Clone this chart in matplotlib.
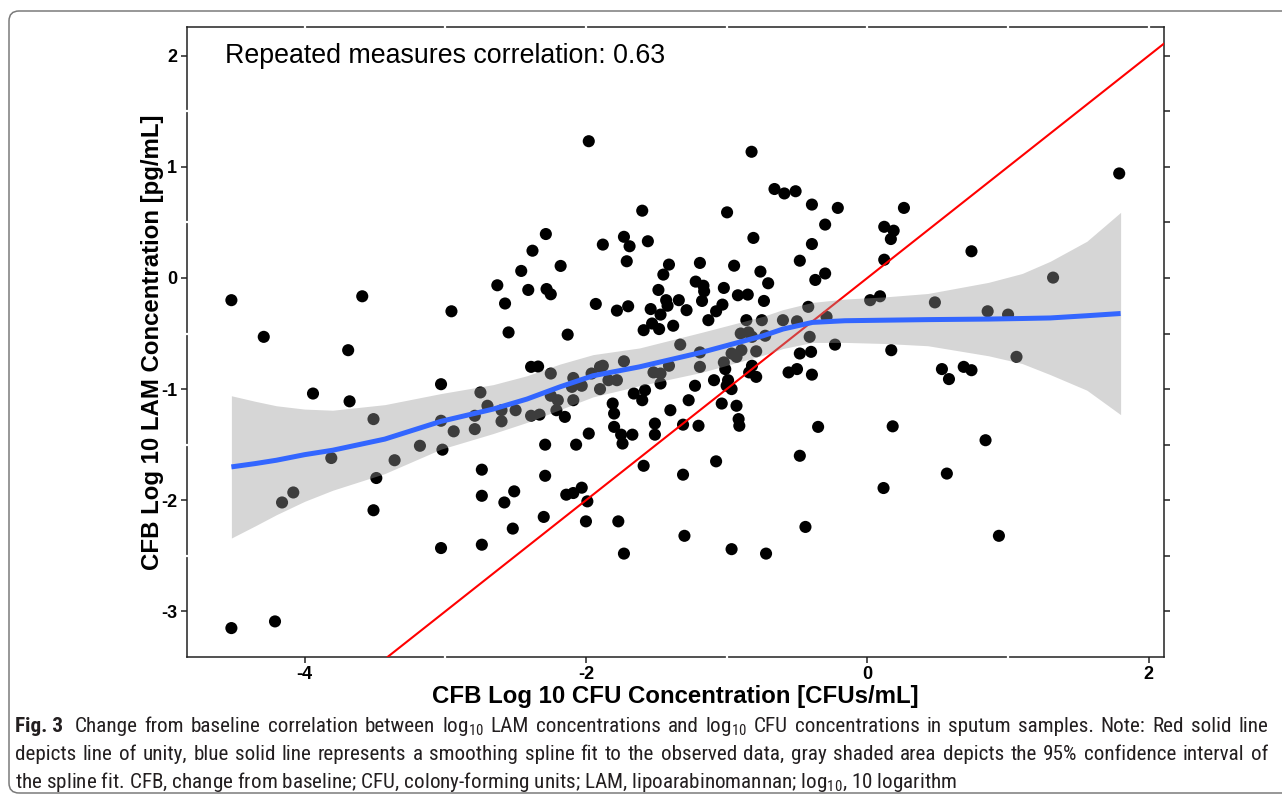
import matplotlib
matplotlib.use("Agg")
import matplotlib.pyplot as plt
from matplotlib import font_manager
from matplotlib.patches import FancyBboxPatch
import matplotlib.transforms as mtransforms

# ---------------- data ----------------
cfu_change = [
    -4.52, -3.59, -2.956, -4.29, -3.69, -3.94, -3.68, -3.03, -3.51, -3.03, -2.94, -3.18, -3.02,
    -3.81, -3.36, -3.49, -4.08, -4.16, -3.51, -3.03, -4.52, -4.21,
    -1.98, -2.285, -1.88, -1.73, -1.69, -1.71, -2.38, -2.46, -2.18, -2.63, -2.41, -2.28, -2.25,
    -2.575, -1.93, -1.78, -1.70, -2.55, -2.13,
    -2.39, -2.34, -2.75, -2.70, -2.79, -2.79, -2.60, -2.60, -2.50, -2.39, -2.33, -2.25, -2.25,
    -2.20, -2.21, -2.15, -2.09, -2.10, -2.03, -2.09, -1.96, -1.90, -1.88, -1.84, -1.90, -1.78,
    -1.73, -1.66, -1.81, -1.80, -1.80, -1.75, -1.74, -1.67, -1.98, -2.29, -2.07, -2.74, -2.29,
    -2.74, -2.51, -2.58, -2.14, -2.09, -2.03, -1.99, -2.30, -2.00, -1.77, -2.52, -2.74, -1.73,
    -0.823, -0.66, -0.59, -0.51, -0.394, -1.60, -0.997, -1.56, -0.81, -0.394, -0.48, -1.41, -1.19,
    -0.947, -1.45, -0.76, -0.37, -0.705, -1.22, -1.165, -1.16, -1.485, -1.02, -1.43, -1.42, -1.34,
    -1.175, -0.92, -0.85, -0.735, -1.54, -1.47, -1.285, -1.03, -1.075, -1.13, -1.59, -1.53, -1.48,
    -1.38, -0.86, -0.75, -0.60, -0.50, -0.42, -1.33, -0.90, -0.845, -0.82, -0.726, -0.41,
    -1.19, -1.19, -1.41, -1.52, -1.47, -1.47, -1.58, -1.60, -1.225, -1.27, -1.40, -1.09, -1.02,
    -1.01, -0.99, -1.00, -0.965, -0.965, -0.93, -0.895, -1.035, -0.93, -0.915, -0.91, -0.82, -0.84,
    -0.79, -0.79, -1.51, -1.51, -1.31, -1.20, -1.59, -1.31, -1.075, -1.30, -0.965, -0.72, -0.48,
    -0.40, -0.56, -0.50, -0.394, -0.35, -0.48, -0.44,
    1.79, -0.21, 0.26, -0.30, 0.12, 0.187, 0.167, 0.74, 0.12, -0.30, 1.32, 0.02, 0.09, 0.48,
    0.855, 1.00, -0.29, -0.23, 0.17, 1.06, 0.53, 0.58, 0.685, 0.74, 0.18, 0.84, 0.565, 0.115, 0.935,
]
lam_change = [
    -0.20, -0.165, -0.30, -0.53, -0.65, -1.04, -1.11, -0.956, -1.27, -1.285, -1.38, -1.51, -1.545,
    -1.62, -1.64, -1.80, -1.93, -2.02, -2.09, -2.43, -3.15, -3.09,
    1.23, 0.395, 0.30, 0.37, 0.285, 0.15, 0.245, 0.063, 0.108, -0.066, -0.108, -0.10, -0.147,
    -0.23, -0.234, -0.294, -0.255, -0.49, -0.51,
    -0.80, -0.797, -1.03, -1.15, -1.24, -1.36, -1.19, -1.29, -1.19, -1.24, -1.23, -0.86, -1.06,
    -1.10, -1.19, -1.25, -0.90, -0.98, -0.97, -1.10, -0.86, -0.80, -0.79, -0.92, -1.00, -0.92,
    -0.75, -1.04, -1.13, -1.22, -1.34, -1.41, -1.49, -1.41, -1.40, -1.50, -1.50, -1.725, -1.78,
    -1.96, -1.92, -2.02, -1.95, -1.935, -1.887, -2.01, -2.15, -2.19, -2.19, -2.255, -2.40, -2.48,
    1.135, 0.80, 0.76, 0.78, 0.66, 0.605, 0.59, 0.33, 0.36, 0.305, 0.155, 0.12, 0.135,
    0.11, 0.03, 0.057, -0.018, -0.048, -0.033, -0.07, -0.12, -0.108, -0.09, -0.20, -0.25, -0.20,
    -0.207, -0.156, -0.15, -0.207, -0.28, -0.33, -0.29, -0.24, -0.30, -0.38, -0.47, -0.41, -0.46,
    -0.43, -0.38, -0.38, -0.38, -0.39, -0.26, -0.60, -0.50, -0.49, -0.53, -0.52, -0.53,
    -0.67, -0.80, -0.79, -0.85, -0.86, -0.95, -1.01, -1.10, -0.97, -1.10, -1.19, -0.92, -0.76,
    -0.82, -0.92, -0.97, -1.00, -0.68, -0.71, -0.65, -1.13, -1.15, -1.27, -1.33, -0.79, -0.85,
    -0.89, -0.66, -1.31, -1.41, -1.32, -1.33, -1.69, -1.77, -1.65, -2.32, -2.44, -2.48, -0.68,
    -0.665, -0.85, -0.82, -0.87, -1.34, -1.60, -2.24,
    0.94, 0.63, 0.63, 0.48, 0.46, 0.425, 0.35, 0.24, 0.164, 0.04, 0.003, -0.20, -0.165, -0.22,
    -0.30, -0.33, -0.35, -0.60, -0.65, -0.71, -0.82, -0.91, -0.80, -0.83, -1.335, -1.46, -1.76, -1.89, -2.32,
]

# smoothing spline fit and its 95% confidence band, read at sample positions
fit_x = [-4.52, -4.35, -4.20, -4.00, -3.80, -3.43, -3.03, -2.66, -2.42, -2.185, -1.95, -1.62,
         -1.18, -0.74, -0.60, -0.39, -0.16, 0.13, 0.43, 0.86, 1.10, 1.30, 1.56, 1.80]
fit_y = [-1.70, -1.67, -1.64, -1.59, -1.55, -1.45, -1.29, -1.18, -1.09, -0.98, -0.88, -0.80,
         -0.67, -0.52, -0.46, -0.40, -0.385, -0.38, -0.375, -0.37, -0.365, -0.36, -0.34, -0.32]
ci_lower = [-2.34, -2.23, -2.13, -2.01, -1.91, -1.76, -1.54, -1.40, -1.30, -1.185, -1.07, -0.97,
            -0.85, -0.695, -0.635, -0.58, -0.58, -0.59, -0.61, -0.70, -0.77, -0.87, -1.01, -1.23]
ci_upper = [-1.06, -1.11, -1.15, -1.18, -1.19, -1.14, -1.04, -0.96, -0.88, -0.775, -0.69, -0.63,
            -0.49, -0.345, -0.285, -0.22, -0.19, -0.17, -0.14, -0.04, 0.04, 0.15, 0.33, 0.59]

x_ticks = [-4, -2, 0, 2]
y_ticks = [-3, -2, -1, 0, 1, 2]
x_minor = [-3, -1, 1]
y_minor = [-2.5, -1.5, -0.5, 0.5, 1.5]

corr_label = "Repeated measures correlation: 0.63"
corr_pos = (-3.0, 2.0)
x_title = "CFB Log 10 CFU Concentration [CFUs/mL]"
y_title = "CFB Log 10 LAM Concentration [pg/mL]"

caption_label = "Fig. 3"
caption_lines = [
    "Change from baseline correlation between log$_{10}$ LAM concentrations and log$_{10}$ CFU concentrations in sputum samples. Note: Red solid line",
    "depicts line of unity, blue solid line represents a smoothing spline fit to the observed data, gray shaded area depicts the 95% confidence interval of",
    "the spline fit. CFB, change from baseline; CFU, colony-forming units; LAM, lipoarabinomannan; log$_{10}$, 10 logarithm",
]

# ---------------- fonts ----------------
names = {f.name for f in font_manager.fontManager.ttflist}
plot_font = "Liberation Sans" if "Liberation Sans" in names else "DejaVu Sans"
cap_font = next((n for n in ["Liberation Sans Narrow", "Roboto Condensed", "Open Sans Condensed",
                             "Liberation Sans"] if n in names), "DejaVu Sans")

plt.rcParams["font.family"] = [plot_font, "DejaVu Sans"]
plt.rcParams["axes.unicode_minus"] = False
plt.rcParams["mathtext.fontset"] = "custom"
plt.rcParams["mathtext.rm"] = cap_font
plt.rcParams["mathtext.it"] = cap_font + ":italic"
plt.rcParams["mathtext.bf"] = cap_font + ":bold"

W, H = 1282, 799
fig = plt.figure(figsize=(W / 100, H / 100), dpi=100)
fig.patch.set_facecolor("white")

# axes placement (pixels measured on reference)
ax_l, ax_r, ax_t, ax_b = 187, 1163.6, 27, 656.7
ax = fig.add_axes([ax_l / W, 1 - ax_b / H, (ax_r - ax_l) / W, (ax_b - ax_t) / H])

ax.scatter(cfu_change, lam_change, s=76, c="black", edgecolors="none", zorder=2)
ax.axline((0, 0), slope=1, color="#FF0000", lw=1.5, zorder=3)
ax.fill_between(fit_x, ci_lower, ci_upper, color="#999999", alpha=0.4, lw=0, zorder=4)
ax.plot(fit_x, fit_y, color="#3366FF", lw=3.6, zorder=5, solid_capstyle="butt",
        solid_joinstyle="round")
ax.text(corr_pos[0], corr_pos[1], corr_label, ha="center", va="center",
        fontsize=19.3, color="black")

# expand limits like ggplot (5% of range incl. annotation)
xs = cfu_change + [corr_pos[0]]
ys = lam_change + [corr_pos[1]]
dx = (max(xs) - min(xs)) * 0.05
dy = (max(ys) - min(ys)) * 0.05
ax.set_xlim(min(xs) - dx, max(xs) + dx)
ax.set_ylim(min(ys) - dy, max(ys) + dy)

ax.set_xticks(x_ticks)
ax.set_yticks(y_ticks)
ax.set_yticks(y_minor, minor=True)
ax.set_xticklabels([str(v) for v in x_ticks])
ax.set_yticklabels([str(v) for v in y_ticks])
ax.tick_params(axis="both", which="major", direction="out", length=4, width=1.1,
               color="#222222", labelsize=13, pad=3, labelcolor="black")
ax.tick_params(axis="y", which="both", right=True, labelright=False)
ax.tick_params(axis="y", which="minor", left=False, right=True, length=4, width=1.1,
               color="#222222")
for lbl in ax.get_xticklabels() + ax.get_yticklabels():
    lbl.set_fontweight("bold")

for s in ax.spines.values():
    s.set_linewidth(1.1)
    s.set_color("#222222")

# small white breaks where ggplot's white grid crosses the panel border
gap_kw = dict(color="white", lw=1.6, clip_on=False, zorder=6, solid_capstyle="butt")
tx = ax.get_xaxis_transform()
ty = ax.get_yaxis_transform()
for xv in x_minor:
    ax.plot([xv, xv], [-0.005, 0.005], transform=tx, **gap_kw)
for xv in sorted(x_ticks + x_minor):
    ax.plot([xv, xv], [0.995, 1.005], transform=tx, **gap_kw)
for yv in y_minor:
    ax.plot([-0.003, 0.003], [yv, yv], transform=ty, **gap_kw)

ax.set_xlabel(x_title, fontsize=17.3, fontweight="bold", va="center")
ax.xaxis.set_label_coords(0.5, -(696 - ax_b) / (ax_b - ax_t))
ax.set_ylabel(y_title, fontsize=17.3, fontweight="bold", va="center")
ax.yaxis.set_label_coords((152 - ax_l) / (ax_r - ax_l), 0.5)

# rounded frame around the figure (runs off the right edge)
frame = FancyBboxPatch((9, H - 793), 1320, 782, boxstyle="round,pad=0,rounding_size=10",
                       transform=mtransforms.IdentityTransform(), fill=False,
                       ec="#7a7a7a", lw=1.1)
fig.add_artist(frame)

# ---------------- caption (first two lines justified) ----------------
renderer = fig.canvas.get_renderer()
cap_color = "#231F20"
x0, x1 = 15, 1268
baselines = [732, 760, 788]


def width_of(txt, fs, bold=False):
    t = fig.text(0, 0, txt, fontsize=fs, family=cap_font,
                 fontweight="bold" if bold else "normal")
    w = t.get_window_extent(renderer).width
    t.remove()
    return w


# size chosen so that the longer of the two full lines nearly fills the width
fs0 = 15.0
nat1 = width_of(caption_label, fs0, True) + width_of("  " + caption_lines[0], fs0)
nat2 = width_of(caption_lines[1], fs0)
fs = fs0 * (x1 - x0) * 0.975 / max(nat1, nat2)
space = width_of("a a", fs) - width_of("aa", fs)

for i, line in enumerate(caption_lines):
    yfig = (H - baselines[i]) / H
    if i == len(caption_lines) - 1:
        fig.text(x0 / W, yfig, line, fontsize=fs, family=cap_font, color=cap_color,
                 va="baseline", ha="left")
        continue
    items = []
    if i == 0:
        items.append((caption_label, True))
    items += [(w, False) for w in line.split(" ")]
    widths = [width_of(t, fs, b) for t, b in items]
    extra = (x1 - x0) - sum(widths)
    if i == 0:
        g = (extra - space) / (len(items) - 1)
        gaps = [g + space] + [g] * (len(items) - 2)
    else:
        gaps = [extra / (len(items) - 1)] * (len(items) - 1)
    x = x0
    for k, ((t, b), w) in enumerate(zip(items, widths)):
        fig.text(x / W, yfig, t, fontsize=fs, family=cap_font, color=cap_color,
                 fontweight="bold" if b else "normal", va="baseline", ha="left")
        if k < len(gaps):
            x += w + gaps[k]

fig.savefig("out.png", dpi=100, facecolor="white")
